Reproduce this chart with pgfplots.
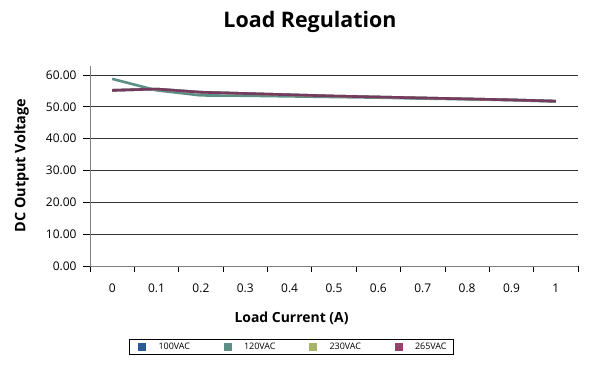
\documentclass[border=0pt]{standalone}
\usepackage{fontspec}
\setmainfont{Open Sans}
\usepackage{pgfplots}
\pgfplotsset{compat=1.18}
\definecolor{c100}{HTML}{2A5A9A}
\definecolor{c120}{HTML}{5E8F86}
\definecolor{c230}{HTML}{A8B46A}
\definecolor{c265}{HTML}{9A3F6C}
\definecolor{l265}{HTML}{76395F}
\definecolor{gridc}{HTML}{333333}
\begin{document}
\begin{tikzpicture}
\path[use as bounding box, fill=white] (0bp,0bp) rectangle (597bp,371bp);
\node[font=\fontsize{21.5}{24}\selectfont\bfseries] at (310bp,349bp) {Load Regulation};
\begin{axis}[
  at={(90bp,105bp)}, anchor=south west,
  scale only axis, width=488bp, height=200.5bp,
  xmin=-0.5, xmax=10.5, ymin=0, ymax=63,
  axis x line=bottom, axis y line=left,
  axis line style={-, gray, line width=1bp},
  xtick={0,...,10},
  xticklabels={0,0.1,0.2,0.3,0.4,0.5,0.6,0.7,0.8,0.9,1},
  major x tick style={draw=none},
  minor xtick={-0.5,0.5,...,10.5},
  minor x tick style={black, line width=0.8bp},
  minor tick length=6bp,
  ytick={0,10,...,60},
  major tick length=7bp,
  tick align=outside,
  y tick style={black, line width=0.8bp},
  ymajorgrids,
  major grid style={gridc, line width=1bp},
  yticklabel style={/pgf/number format/fixed, /pgf/number format/fixed zerofill, /pgf/number format/precision=2, font=\fontsize{12}{14}\selectfont, xshift=-3bp},
  xticklabel style={font=\fontsize{12}{14}\selectfont, yshift=-7bp},
  /pgf/number format/assume math mode=true,
  xlabel={Load Current (A)},
  xlabel style={font=\fontsize{14}{16}\selectfont\bfseries, at={(axis description cs:0.413,-0.26)}, anchor=center},
  ylabel={DC Output Voltage},
  ylabel style={font=\fontsize{14.5}{16}\selectfont\bfseries, at={(axis description cs:-0.14,0.5)}, anchor=center},
  legend columns=4,
  legend style={at={(axis description cs:0.413,-0.403)}, anchor=center, draw=black, line width=0.7bp, font=\fontsize{9}{10}\selectfont, inner xsep=5bp, inner ysep=1.5bp, /tikz/every even column/.append style={column sep=28bp}},
  legend cell align=left,
  clip=false,
]
\addplot[c100, line width=2.6bp, legend image code/.code={\path[draw=none] (0bp,0bp) -- (22bp,0bp); \fill[c100] (5bp,-2.5bp) rectangle (10.5bp,3bp);}] coordinates {(0,55.2) (1,55.6) (2,54.6) (3,54.2) (4,53.8) (5,53.4) (6,53.1) (7,52.8) (8,52.5) (9,52.2) (10,51.8)};
\addlegendentry{100VAC}
\addplot[c120, line width=2.6bp, legend image code/.code={\path[draw=none] (0bp,0bp) -- (22bp,0bp); \fill[c120] (5bp,-2.5bp) rectangle (10.5bp,3bp);}] coordinates {(0,58.8) (1,55.2) (2,53.6) (3,53.5) (4,53.3) (5,53.1) (6,52.9) (7,52.6) (8,52.4) (9,52.1) (10,51.7)};
\addlegendentry{120VAC}
\addplot[c230, line width=2.6bp, legend image code/.code={\path[draw=none] (0bp,0bp) -- (22bp,0bp); \fill[c230] (5bp,-2.5bp) rectangle (10.5bp,3bp);}] coordinates {(0,55.2) (1,55.6) (2,54.6) (3,54.2) (4,53.8) (5,53.4) (6,53.1) (7,52.8) (8,52.5) (9,52.2) (10,51.8)};
\addlegendentry{230VAC}
\addplot[l265, line width=2.6bp, legend image code/.code={\path[draw=none] (0bp,0bp) -- (22bp,0bp); \fill[c265] (5bp,-2.5bp) rectangle (10.5bp,3bp);}] coordinates {(0,55.2) (1,55.6) (2,54.6) (3,54.2) (4,53.8) (5,53.4) (6,53.1) (7,52.8) (8,52.5) (9,52.2) (10,51.8)};
\addlegendentry{265VAC}
\end{axis}
\end{tikzpicture}
\end{document}
